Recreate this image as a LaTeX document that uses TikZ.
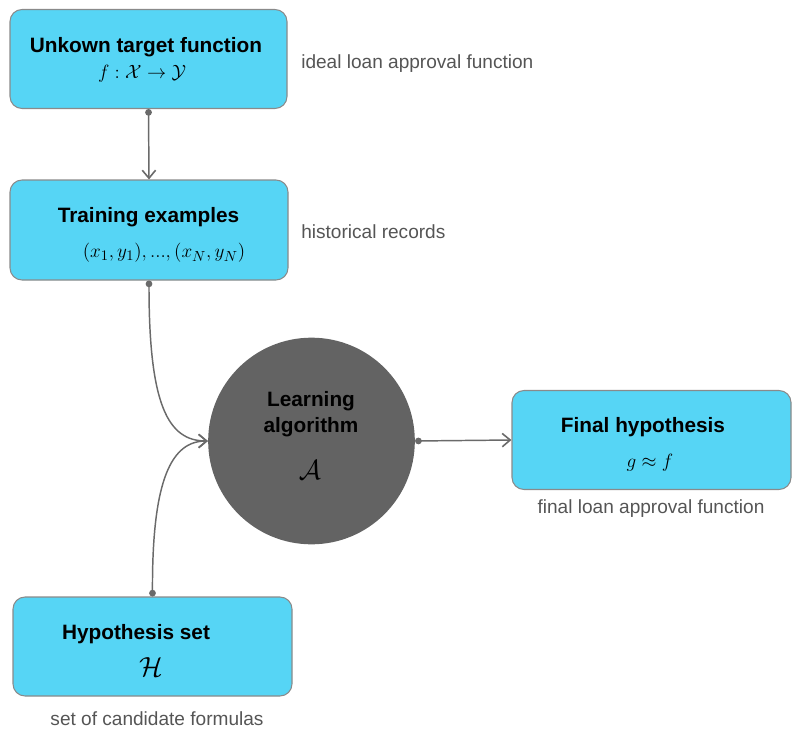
\documentclass[tikz,border=0pt]{standalone}
\usepackage[no-math]{fontspec}
\setmainfont{Liberation Sans}
\usetikzlibrary{arrows.meta}
\definecolor{boxfill}{HTML}{56D5F5}
\definecolor{boxline}{HTML}{8A8A8A}
\definecolor{circfill}{HTML}{636363}
\definecolor{wire}{HTML}{6A6A6A}
\definecolor{labgray}{HTML}{555555}
\tikzset{
  box/.style={draw=boxline, line width=0.8pt, fill=boxfill, rounded corners=9pt, inner sep=0pt},
  title/.style={font=\fontsize{15.6}{18.5}\selectfont\bfseries, text=black, inner sep=0pt, anchor=center},
  mathtxt/.style={font=\fontsize{15.4}{18}\selectfont, inner sep=0pt, anchor=center},
  bigcal/.style={font=\fontsize{21}{24}\selectfont, inner sep=0pt, anchor=center},
  note/.style={font=\fontsize{14.3}{17}\selectfont, text=labgray, inner sep=0pt},
  conn/.style={draw=wire, line width=1.1pt, {Circle[length=5pt]}-{Straight Barb[length=6pt,width=10pt,line width=1.2pt]}},
}
\begin{document}
\begin{tikzpicture}[x=0.75pt,y=-0.75pt]
\useasboundingbox (0,0) rectangle (800,735);
% boxes
\node[box, minimum width=207.75pt, minimum height=74.25pt] (target) at (148.5,59) {};
\node[box, minimum width=208.5pt, minimum height=75pt] (train) at (149,230) {};
\node[box, minimum width=209.25pt, minimum height=74.25pt] (final) at (651.5,440) {};
\node[box, minimum width=209.25pt, minimum height=74.25pt] (hset) at (152.5,646.5) {};
\node[circle, fill=circfill, minimum size=155pt, inner sep=0pt] (alg) at (311.5,441) {};
% texts
\node[title] (t1) at (146,47) {Unkown target function};
\node[mathtxt] (m1) at (142,74) {$f : \mathcal{X} \rightarrow \mathcal{Y}$};
\node[note, anchor=west] (n1) at (301,64) {ideal loan approval function};
\node[title] (t2) at (148.5,217) {Training examples};
\node[mathtxt] (m2) at (164,253) {$(x_1,y_1), ..., (x_N,y_N)$};
\node[note, anchor=west] (n2) at (301,232) {historical records};
\node[title, align=center] (t3) at (311,414) {Learning\\[1pt]algorithm};
\node[bigcal] (m3) at (310,470) {$\mathcal{A}$};
\node[title] (t4) at (643,427) {Final hypothesis};
\node[mathtxt] (m4) at (650,463) {$g \approx f$};
\node[note] (n4) at (651,509) {final loan approval function};
\node[title] (t5) at (136,634) {Hypothesis set};
\node[bigcal] (m5) at (151,667) {$\mathcal{H}$};
\node[note] (n5) at (157,719) {set of candidate formulas};
% connectors
\draw[conn] (target.south) -- (train.north);
\draw[conn] (train.south) .. controls (149,405) and (168,441) .. (alg.west);
\draw[conn] (hset.north) .. controls (152,478) and (172,441) .. (alg.west);
\draw[conn] (alg.east) -- (final.west);
\end{tikzpicture}
\end{document}
